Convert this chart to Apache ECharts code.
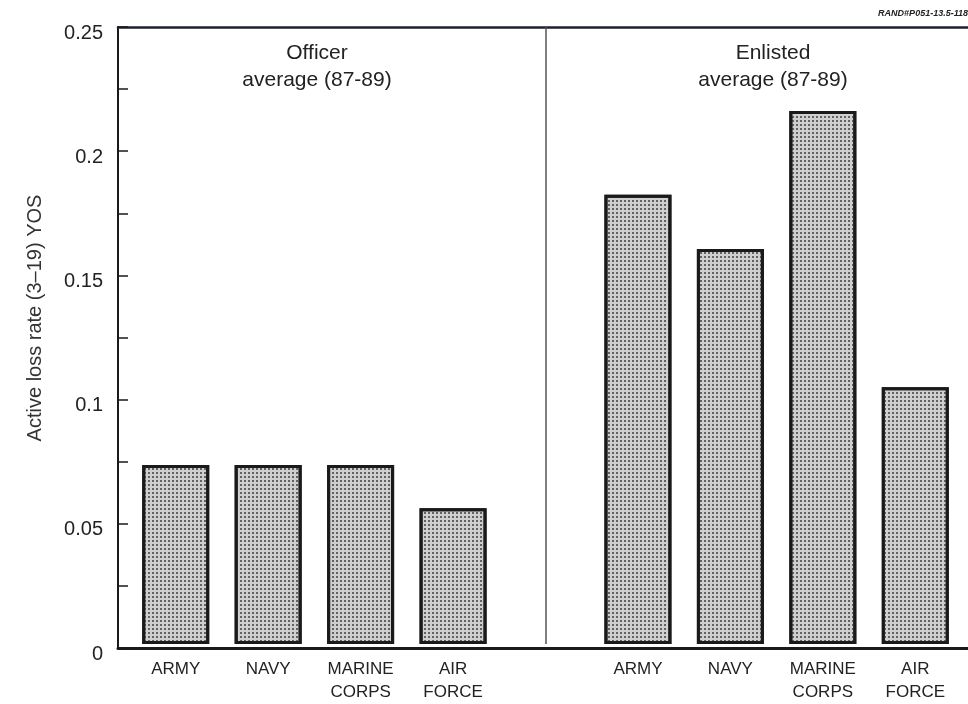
<!DOCTYPE html>
<html>
<head>
<meta charset="utf-8">
<script src="https://cdn.jsdelivr.net/npm/echarts@6/dist/echarts.min.js"></script>
<style>
html,body{margin:0;padding:0;background:#fff;}
#chart{width:968px;height:704px;}
</style>
</head>
<body>
<div id="chart"></div>
<script>
// ---- data ----
var services = ['ARMY', 'NAVY', 'MARINE\nCORPS', 'AIR\nFORCE'];
var officerRates = [0.0725, 0.0725, 0.0725, 0.055];
var enlistedRates = [0.182, 0.160, 0.216, 0.104];
var groupTitles = ['Officer\naverage (87-89)', 'Enlisted\naverage (87-89)'];
var yTicks = [0, 0.05, 0.1, 0.15, 0.2, 0.25];
var yName = 'Active loss rate (3\u201319) YOS';
var stamp = 'RAND#P051-13.5-118';

// categories: officer group, a gap slot, enlisted group
var categories = services.concat(['']).concat(services);
var values = officerRates.concat([null]).concat(enlistedRates);

var FONT = '"Liberation Sans", Arial, Helvetica, sans-serif';
var chart = echarts.init(document.getElementById('chart'), null, {renderer: 'canvas'});

var option = {
  backgroundColor: '#ffffff',
  animation: false,
  grid: [
    {left: 118, top: 27, right: -200, bottom: 56},
    {left: 129.5, top: 27, width: 832, bottom: 56}
  ],
  xAxis: [
    {type: 'value', gridIndex: 0, position: 'bottom', min: 0, max: 1,
      axisLine: {show: true, lineStyle: {color: '#1a1a1a', width: 3}},
      axisTick: {show: false}, axisLabel: {show: false}, splitLine: {show: false}},
    {type: 'value', gridIndex: 0, position: 'top', min: 0, max: 1,
      axisLine: {show: true, lineStyle: {color: '#1e2230', width: 2.5}},
      axisTick: {show: false}, axisLabel: {show: false}, splitLine: {show: false}},
    {
      type: 'category', gridIndex: 1, data: categories,
      axisLine: {show: false},
      axisTick: {show: false},
      axisLabel: {interval: 0, fontFamily: FONT, fontSize: 17, color: '#222', lineHeight: 23, margin: 14}
    }
  ],
  yAxis: [
    {
      type: 'value', gridIndex: 0, min: yTicks[0], max: yTicks[yTicks.length - 1], interval: 0.05,
      axisLine: {show: true, lineStyle: {color: '#1a1a1a', width: 2}},
      axisTick: {show: true, inside: true, length: 10, lineStyle: {color: '#1a1a1a', width: 1.5}},
      minorTick: {show: true, splitNumber: 2, length: 10, lineStyle: {color: '#1a1a1a', width: 1.5}},
      splitLine: {show: false},
      axisLabel: {
        fontFamily: FONT, fontSize: 20, color: '#222', margin: 15,
        verticalAlign: 'top', lineHeight: 12,
        formatter: function (v) { return String(Math.round(v * 100) / 100); }
      }
    },
    {type: 'value', gridIndex: 1, min: yTicks[0], max: yTicks[yTicks.length - 1], show: false}
  ],
  series: [{
    type: 'bar',
    xAxisIndex: 2, yAxisIndex: 1,
    data: values,
    barWidth: 67,
    itemStyle: {
      color: '#cfcfcf',
      borderColor: '#1a1a1a',
      borderWidth: 3,
      decal: {
        symbol: 'rect', symbolSize: 1, color: 'rgba(70,70,70,0.8)',
        dashArrayX: [1.5, 1.5], dashArrayY: [1.5, 1.5]
      }
    },
    markLine: {
      silent: true, symbol: 'none', label: {show: false},
      lineStyle: {color: '#555', width: 1.5, type: 'solid'},
      data: [{xAxis: 4}]
    }
  }],
  graphic: [
    {type: 'text', x: 35, y: 318, rotation: Math.PI / 2,
      style: {text: yName, font: '20px ' + FONT, fill: '#333', textAlign: 'center', textVerticalAlign: 'middle'}},
    {type: 'text', x: 317, y: 40, style: {text: groupTitles[0], font: '21px ' + FONT, fill: '#222', textAlign: 'center', lineHeight: 27}},
    {type: 'text', x: 773, y: 40, style: {text: groupTitles[1], font: '21px ' + FONT, fill: '#222', textAlign: 'center', lineHeight: 27}},
    {type: 'text', right: 0, top: 9, style: {text: stamp, font: 'italic bold 9px ' + FONT, fill: '#222'}}
  ]
};
chart.setOption(option);
</script>
</body>
</html>
